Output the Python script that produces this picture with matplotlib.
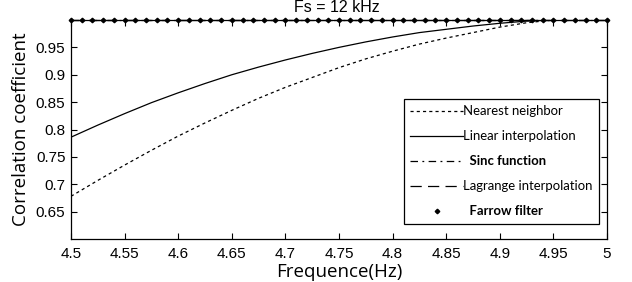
import numpy as np
import matplotlib.pyplot as plt

# frequency grid (Hz)
freq = [4.5, 4.525, 4.55, 4.575, 4.6, 4.625, 4.65, 4.675, 4.7, 4.725, 4.75,
        4.775, 4.8, 4.825, 4.85, 4.875, 4.9, 4.925, 4.95, 4.975, 5.0]

nearest = [0.678, 0.707, 0.735, 0.762, 0.788, 0.812, 0.835, 0.857, 0.877, 0.895, 0.913,
           0.929, 0.943, 0.956, 0.967, 0.977, 0.987, 0.995, 1.0, 1.0, 1.0]
linear = [0.786, 0.808, 0.829, 0.849, 0.867, 0.884, 0.900, 0.914, 0.927, 0.939, 0.950,
          0.960, 0.969, 0.977, 0.983, 0.989, 0.994, 0.998, 1.0, 1.0, 1.0]
sinc = [1.0] * len(freq)
lagrange = [1.0] * len(freq)

# Farrow filter sampled every 0.01 Hz
farrow_freq = [round(4.5 + 0.01 * i, 2) for i in range(51)]
farrow = [1.0] * len(farrow_freq)

xticks = [4.5, 4.55, 4.6, 4.65, 4.7, 4.75, 4.8, 4.85, 4.9, 4.95, 5.0]
xticklabels = ['4.5', '4.55', '4.6', '4.65', '4.7', '4.75', '4.8', '4.85', '4.9', '4.95', '5']
yticks = [0.65, 0.7, 0.75, 0.8, 0.85, 0.9, 0.95]
yticklabels = ['0.65', '0.7', '0.75', '0.8', '0.85', '0.9', '0.95']

fig = plt.figure(figsize=(6.32, 2.82), dpi=100)
ax = fig.add_axes([71 / 632, 1 - 239 / 282, 536 / 632, 219 / 282])

ax.plot(freq, nearest, color='k', ls=(0, (2.5, 2.5)), lw=0.9, label='Nearest neighbor')
ax.plot(freq, linear, color='k', ls='-', lw=0.9, label='Linear interpolation')
ax.plot(freq, sinc, color='k', ls=(0, (6, 3.5, 1.5, 3.5)), lw=0.9, label='  Sinc function', clip_on=False)
ax.plot(freq, lagrange, color='k', ls=(0, (9, 5)), lw=0.9, label='Lagrange interpolation', clip_on=False)
ax.plot(farrow_freq, farrow, color='k', ls='none', marker='D', ms=2.3, label='  Farrow filter', clip_on=False)

ax.set_xlim(4.5, 5.0)
ax.set_ylim(0.6, 1.0)
ax.set_xticks(xticks)
ax.set_xticklabels(xticklabels, family='Liberation Sans', fontsize=11)
ax.set_yticks(yticks)
ax.set_yticklabels(yticklabels, family='Liberation Sans', fontsize=11)
ax.tick_params(direction='in', top=True, right=True, length=4, width=0.8)
ax.tick_params(axis='x', pad=6)
ax.tick_params(axis='y', pad=4)
for sp in ax.spines.values():
    sp.set_linewidth(0.9)

ax.set_xlabel('Frequence(Hz)', family='Open Sans', fontsize=13.5, labelpad=1.5)
ax.set_ylabel('Correlation coefficient', family='Open Sans', fontsize=13.5, labelpad=4)
fig.text(337 / 632, 1.0, 'Fs = 12 kHz', family='Liberation Sans', fontsize=11.5,
         ha='center', va='top')

leg = ax.legend(loc='upper right', bbox_to_anchor=(0.985, 1 - 79 / 219), fancybox=False,
                edgecolor='k', framealpha=1, handlelength=4.1, handletextpad=0.0,
                borderpad=0.5, labelspacing=1.0, borderaxespad=0,
                prop={'family': 'Lato', 'size': 9.3})
leg.get_frame().set_linewidth(0.9)

# one font size for every label, fitted so the widest label is about 128 px
renderer = fig.canvas.get_renderer()
texts = leg.get_texts()
for t in texts:
    if 'Sinc' in t.get_text() or 'Farrow' in t.get_text():
        t.set_fontweight('bold')
w = texts[3].get_window_extent(renderer).width
size = texts[3].get_fontsize() * 128 / w
for t in texts:
    t.set_fontsize(size)

fig.savefig('out.png', dpi=100)
